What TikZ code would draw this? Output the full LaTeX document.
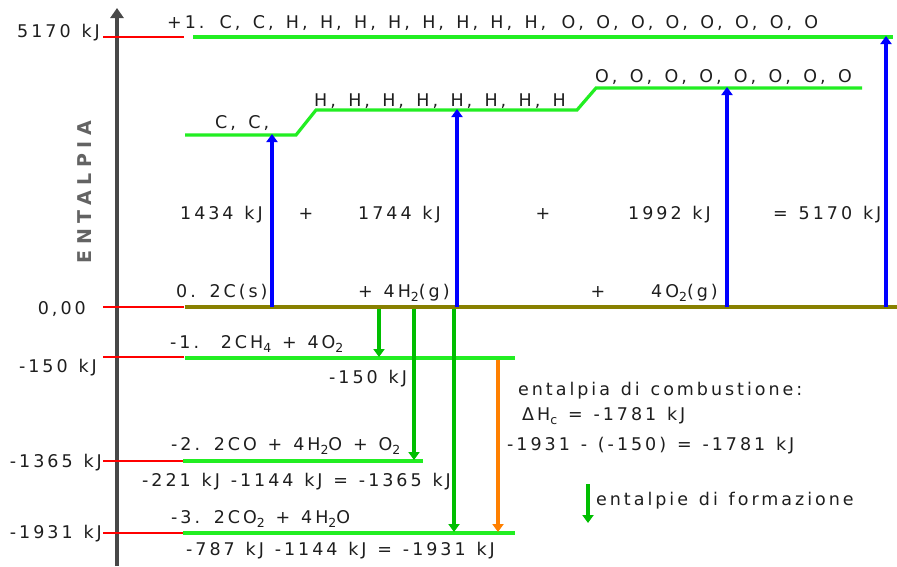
\documentclass[tikz,border=0pt]{standalone}
\usepackage{fontspec}
\setmainfont{DejaVu Sans}[LetterSpace=17,WordSpace=1.27]
\newfontfamily\atomfont{DejaVu Sans}[LetterSpace=17,WordSpace=1.45]
\newfontfamily\entfont{DejaVu Sans}[LetterSpace=30]
\usetikzlibrary{arrows.meta}
\definecolor{lvgreen}{RGB}{34,238,34}
\definecolor{argreen}{RGB}{0,190,0}
\definecolor{arblue}{RGB}{0,0,255}
\definecolor{arorange}{RGB}{255,128,0}
\definecolor{olivel}{RGB}{136,128,0}
\definecolor{axgray}{RGB}{72,72,72}
\definecolor{txt}{RGB}{30,30,30}
\definecolor{tickred}{RGB}{255,0,0}
\newcommand\sbs[1]{\raisebox{-0.45ex}{\fontsize{12.5}{12.5}\selectfont #1}}
\begin{document}
\begin{tikzpicture}[x=1pt,y=-1pt,
  lbl/.style={inner sep=0pt, anchor=base west, text=txt, font=\fontsize{17.5}{20}\selectfont},
  alb/.style={lbl, font=\atomfont\fontsize{17.5}{20}\selectfont},
  lbr/.style={lbl, anchor=base east},
  lbc/.style={lbl, anchor=base},
  level/.style={draw=lvgreen, line width=3.2pt},
  tickline/.style={draw=tickred, line width=1.1pt},
  tip/.style={-{Triangle[width=11pt,length=8pt]}},
  upar/.style={draw=arblue, line width=4pt, tip},
  dnar/.style={draw=argreen, line width=3.5pt, tip},
  combar/.style={draw=arorange, line width=3.5pt, tip}]
\useasboundingbox[fill=white] (0,0) rectangle (897,566);

% axis
\coordinate (axb) at (117,566);
\coordinate (axt) at (117,8);
\draw[axgray, line width=4pt, -{Triangle[width=13pt,length=10pt]}] (axb) -- (axt);
\node[rotate=90, inner sep=0pt, text=axgray!85, font=\entfont\fontsize{19}{19}\selectfont\bfseries] (ent) at (84.5,192) {ENTALPIA};

% red ticks
\coordinate (r0a) at (103,37);  \coordinate (r0b) at (184,37);
\coordinate (r1a) at (103,307); \coordinate (r1b) at (184,307);
\coordinate (r2a) at (103,357); \coordinate (r2b) at (184,357);
\coordinate (r3a) at (103,461); \coordinate (r3b) at (184,461);
\coordinate (r4a) at (103,533); \coordinate (r4b) at (184,533);
\draw[tickline] (r0a) -- (r0b);
\draw[tickline] (r1a) -- (r1b);
\draw[tickline] (r2a) -- (r2b);
\draw[tickline] (r3a) -- (r3b);
\draw[tickline] (r4a) -- (r4b);

% axis labels
\node[lbr] (y0) at (100,37) {5170 kJ};
\node[lbr] (y1) at (86,314) {0,00};
\node[lbr] (y2) at (97,372) {-150 kJ};
\node[lbr] (y3) at (102,467) {-1365 kJ};
\node[lbr] (y4) at (102,538) {-1931 kJ};

% levels
\draw[level] (193,37) coordinate (topL) -- (893,37) coordinate (topR);
\draw[level, line join=miter] (185,135) -- (296,135) -- (316,110) -- (577,110) -- (596,88) -- (862,88);
\draw[draw=olivel, line width=4.5pt] (185,307) coordinate (baseL) -- (897,307) coordinate (baseR);
\draw[level] (185,358) -- (515,358);
\draw[level] (183,461) -- (423,461);
\draw[level] (183,533) -- (515,533);

% upward arrows
\coordinate (b1) at (272,307); \coordinate (t1) at (272,134);
\coordinate (b2) at (457,307); \coordinate (t2) at (457,109);
\coordinate (b3) at (727,307); \coordinate (t3) at (727,87);
\coordinate (b4) at (886,307); \coordinate (t4) at (886,36);
\foreach \i in {1,...,4} {\draw[upar] (b\i) -- (t\i);}

% downward arrows
\coordinate (g1s) at (379,309); \coordinate (g1e) at (379,357);
\coordinate (g2s) at (414,309); \coordinate (g2e) at (414,460);
\coordinate (g3s) at (454,309); \coordinate (g3e) at (454,532);
\foreach \i in {1,2,3} {\draw[dnar] (g\i s) -- (g\i e);}
\coordinate (os) at (498,360); \coordinate (oe) at (498,532);
\draw[combar] (os) -- (oe);
\coordinate (ls) at (588,484); \coordinate (le) at (588,523);
\draw[dnar] (ls) -- (le);

% level texts
\node[alb] (atoms) at (167,28) {+1. C, C, H, H, H, H, H, H, H, H, \hspace{3pt}O, O, O, O, O, O, O, O};
\node[alb] (cc) at (215,128) {C, C,};
\node[alb] (hh) at (314,106) {H, H, H, H, H, H, H, H};
\node[alb] (oo) at (595,82) {O, O, O, O, O, O, O, O};

\node[lbl] (e1) at (180,219) {1434 kJ};
\node[lbc] (p1) at (306,219) {+};
\node[lbl] (e2) at (358,219) {1744 kJ};
\node[lbc] (p2) at (543,219) {+};
\node[lbl] (e3) at (628,219) {1992 kJ};
\node[lbl] (e4) at (773,219) {= 5170 kJ};

\node[lbl] (s1) at (176,297) {0. 2C(s)};
\node[lbl] (s2) at (358,297) {+ 4H\sbs{2}(g)};
\node[lbc] (p3) at (598,297) {+};
\node[lbl] (s3) at (651,297) {4O\sbs{2}(g)};

\node[lbl] (m1) at (170,348) {-1.\ \ 2CH\sbs{4} + 4O\sbs{2}};
\node[lbl] (m1v) at (329,383) {-150 kJ};
\node[lbl] (m2) at (171,450) {-2. 2CO + 4H\sbs{2}O + O\sbs{2}};
\node[lbl] (m2v) at (142,486) {-221 kJ -1144 kJ = -1365 kJ};
\node[lbl] (m3) at (171,523) {-3. 2CO\sbs{2} + 4H\sbs{2}O};
\node[lbl] (m3v) at (186,555) {-787 kJ -1144 kJ = -1931 kJ};

\node[lbl] (c1) at (518,395) {entalpia di combustione:};
\node[lbl] (c2) at (522,420) {ΔH\sbs{c} = -1781 kJ};
\node[lbl] (c3) at (507,450) {-1931 - (-150) = -1781 kJ};
\node[lbl] (leg) at (596,505) {entalpie di formazione};
\end{tikzpicture}
\end{document}
